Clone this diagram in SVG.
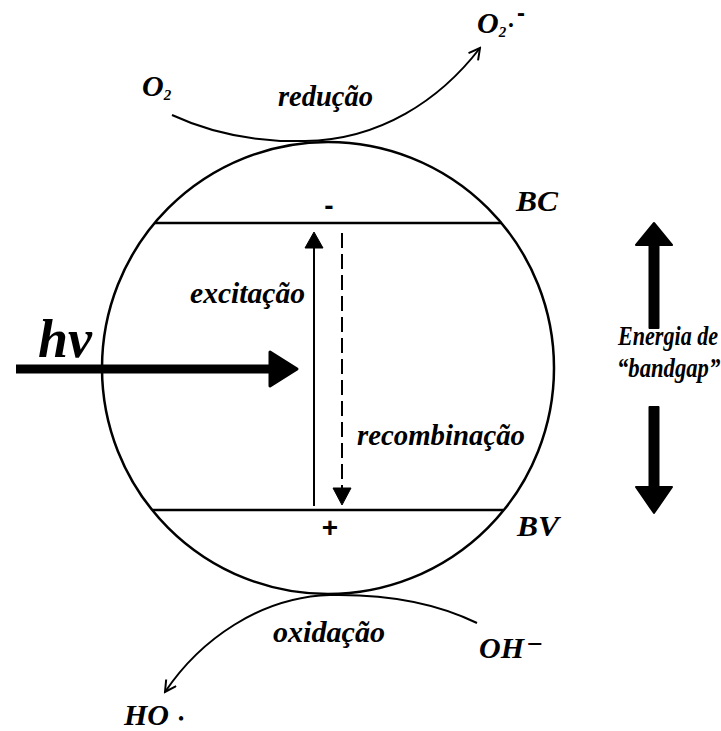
<svg xmlns="http://www.w3.org/2000/svg" width="721" height="731" viewBox="0 0 721 731">
<style>
.t{font-family:"Liberation Serif","Tinos","Times New Roman","DejaVu Serif",serif;font-weight:700;font-style:italic;fill:#000}
.u{font-family:"Liberation Serif","Tinos","Times New Roman","DejaVu Serif",serif;font-weight:700;fill:#000}
.s{font-family:"Liberation Sans",Arial,sans-serif;font-weight:700;fill:#000}
.ln{fill:none;stroke:#000;stroke-width:2.5}
.cv{fill:none;stroke:#000;stroke-width:2}
.fa{fill:#000;stroke:#000;stroke-linejoin:round}
</style>
<defs>
<marker id="open" viewBox="0 0 14 14" refX="12" refY="7" markerWidth="14" markerHeight="14" markerUnits="userSpaceOnUse" orient="auto">
<polyline points="1,1 12,7 1,13" fill="none" stroke="#000" stroke-width="2"/>
</marker>
</defs>
<rect width="721" height="731" fill="#fff"/>
<g id="particle">
<circle cx="328" cy="368" r="226" class="ln"/>
</g>
<g id="bc">
<line x1="155" y1="223" x2="502" y2="223" class="ln"/>
<text x="516" y="211" class="t" font-size="30" textLength="42" lengthAdjust="spacingAndGlyphs">BC</text>
<text x="329" y="215" class="s" font-size="28" text-anchor="middle">-</text>
</g>
<g id="bv">
<line x1="152" y1="510" x2="503" y2="510" class="ln"/>
<text x="517" y="536" class="t" font-size="30" textLength="42" lengthAdjust="spacingAndGlyphs">BV</text>
<text x="330" y="537" class="s" font-size="28" text-anchor="middle">+</text>
</g>
<g id="labels-top">
<text x="142" y="96" class="t" font-size="30">O<tspan font-size="15" dy="4">2</tspan></text>
<text x="278" y="106" class="t" font-size="30" textLength="95" lengthAdjust="spacingAndGlyphs">redução</text>
<text x="477" y="33" class="t" font-size="30">O<tspan font-size="15" dy="4">2</tspan></text>
<text x="511" y="30" class="u" font-size="14" text-anchor="middle">•</text>
<text x="521" y="21" class="s" font-size="24" text-anchor="middle">-</text>
</g>
<g id="labels-bottom">
<text x="273" y="642" class="t" font-size="30" textLength="112" lengthAdjust="spacingAndGlyphs">oxidação</text>
<text x="479" y="658" class="t" font-size="30">OH</text>
<text x="535" y="653" class="u" font-size="28" text-anchor="middle">−</text>
<text x="124" y="725" class="t" font-size="30">HO</text>
<text x="181" y="724" class="u" font-size="16" text-anchor="middle">•</text>
</g>
<g id="hv">
<text x="38" y="357" class="t" font-size="54">hv</text>
</g>
<g id="energia">
<polygon points="654,223 672,245 658.5,245 658.5,328 649.5,328 649.5,245 636,245" class="fa" stroke-width="2"/>
<polygon points="654,513 672,487 658.5,487 658.5,407 649.5,407 649.5,487 636,487" class="fa" stroke-width="2"/>
<text class="t" font-size="28" transform="translate(618,345) scale(0.79,1)">Energia de</text>
<text class="t" font-size="28" transform="translate(617,377) scale(0.81,1)">“bandgap”</text>
</g>
<g id="excitacao">
<text x="190" y="303" class="t" font-size="30" textLength="115" lengthAdjust="spacingAndGlyphs">excitação</text>
</g>
<g id="recombinacao">
<text x="357" y="445" class="t" font-size="30" textLength="168" lengthAdjust="spacingAndGlyphs">recombinação</text>
</g>
<g id="connectors">
<path d="M172,115 C215,135 260,142 305,141 C380,140 440,100 480,48" class="cv" marker-end="url(#open)"/>
<path d="M477,623 C430,600 380,594 330,595 C260,597 200,640 165,692" class="cv" marker-end="url(#open)"/>
<line x1="16" y1="369" x2="272" y2="369" stroke="#000" stroke-width="9"/>
<polygon points="270,352 297,369 270,386" class="fa" stroke-width="3"/>
<line x1="314" y1="506" x2="314" y2="246" stroke="#000" stroke-width="2"/>
<polygon points="314,232 323,248 305,248" class="fa" stroke-width="1"/>
<line x1="342" y1="233" x2="342" y2="489" stroke="#000" stroke-width="2" stroke-dasharray="15,6"/>
<polygon points="342,505 351,488 333,488" class="fa" stroke-width="1"/>
</g>
</svg>
